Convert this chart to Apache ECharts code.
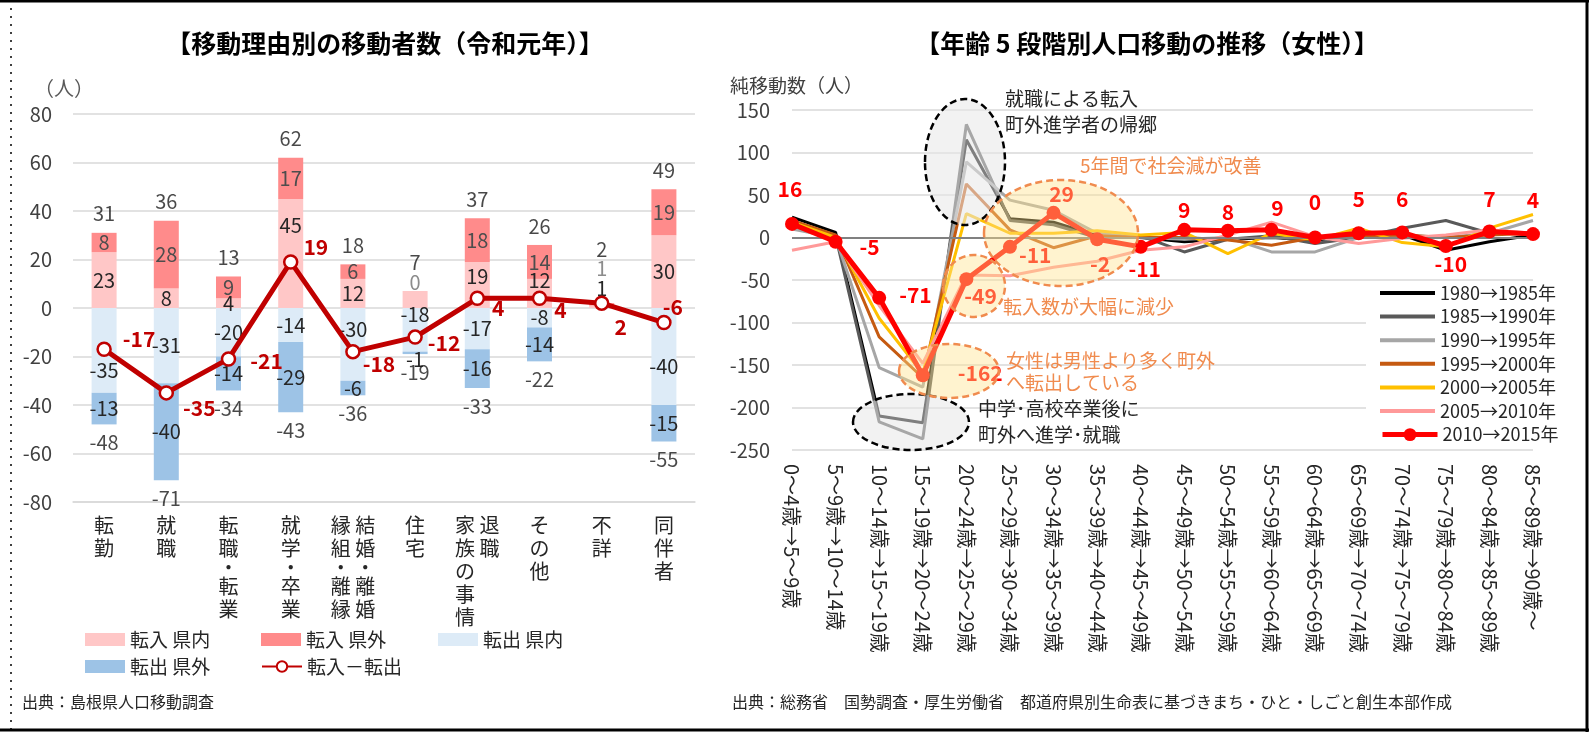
<!DOCTYPE html>
<html>
<head>
<meta charset="utf-8">
<script src="https://cdn.jsdelivr.net/npm/echarts@6/dist/echarts.min.js"></script>
<style>
html, body { margin: 0; padding: 0; background: #fff; }
#main { width: 1589px; height: 732px; }
</style>
</head>
<body>
<div id="main"></div>
<script>
// 左：移動理由別の移動者数（令和元年）
var reasons = ['転勤', '就職', '転職・転業', '就学・卒業', '結婚・離婚・縁組・離縁', '住宅', '退職・家族の事情', 'その他', '不詳', '同伴者'];
// 縦書きの列（右の列から）
var reasonColumns = [['転勤'], ['就職'], ['転職・転業'], ['就学・卒業'], ['結婚・離婚', '縁組・離縁'], ['住宅'], ['退職', '家族の事情'], ['その他'], ['不詳'], ['同伴者']];
var inPref = [23, 8, 4, 45, 12, 7, 19, 12, 1, 30];
var inOther = [8, 28, 9, 17, 6, 0, 18, 14, 1, 19];
var outPref = [-35, -31, -20, -14, -30, -18, -17, -8, 0, -40];
var outOther = [-13, -40, -14, -29, -6, -1, -16, -14, 0, -15];
var netMove = [-17, -35, -21, 19, -18, -12, 4, 4, 2, -6];
var leftMin = -80, leftMax = 80, leftStep = 20;

// 右：年齢5段階別人口移動の推移（女性）
var ageGroups = ['0～4歳→5～9歳', '5～9歳→10～14歳', '10～14歳→15～19歳', '15～19歳→20～24歳', '20～24歳→25～29歳',
  '25～29歳→30～34歳', '30～34歳→35～39歳', '35～39歳→40～44歳', '40～44歳→45～49歳', '45～49歳→50～54歳',
  '50～54歳→55～59歳', '55～59歳→60～64歳', '60～64歳→65～69歳', '65～69歳→70～74歳', '70～74歳→75～79歳',
  '75～79歳→80～84歳', '80～84歳→85～89歳', '85～89歳→90歳～'];
var periods = ['1980→1985年', '1985→1990年', '1990→1995年', '1995→2000年', '2000→2005年', '2005→2010年', '2010→2015年'];
var p1980 = [24, 6, -210, -218, 115, 22, 18, 2, 0, -5, -2, 0, -3, 2, 3, -15, -5, 3];
var p1985 = [16, 2, -217, -237, 133, 20, 15, 0, 2, -17, -2, 2, -7, 0, 11, 20, 5, 5];
var p1990 = [10, 0, -153, -176, 89, 44, 32, 5, 0, -2, 0, -17, -17, 0, 3, 0, 5, 20];
var p1995 = [20, 3, -117, -165, 63, 9, -12, 2, 0, 0, -3, -9, 0, 2, 3, 0, 3, 5];
var p2000 = [18, 0, -95, -160, 28, 5, 5, 8, 3, 6, -19, 5, -3, 11, -6, -11, 11, 27];
var p2005 = [-15, -5, -80, -148, -44, -45, -35, -28, -15, -11, 3, 18, 1, -7, -1, 3, 9, 5];
var p2010 = [16, -5, -71, -162, -49, -11, 29, -2, -11, 9, 8, 9, 0, 5, 6, -10, 7, 4];
var rightMin = -250, rightMax = 150, rightStep = 50;

var FONT = '"Noto Sans CJK JP", "Noto Sans", sans-serif';
var myChart = echarts.init(document.getElementById('main'));

// ラベル位置の個別調整
function items(values, tweaks, base) {
  return values.map(function (v, i) {
    var lab = Object.assign({ show: v !== 0 }, base || {}, tweaks[i] || {});
    return { value: v, label: lab };
  });
}

// 縦書き（中黒の行は詰める）
function verticalText(value, idx) {
  var cols = reasonColumns[idx];
  var n = 0;
  cols.forEach(function (c) { n = Math.max(n, c.length); });
  var rows = [];
  for (var r = 0; r < n; r++) {
    var row = [];
    for (var c = cols.length - 1; c >= 0; c--) {
      row.push(cols[c].charAt(r) || '\u3000');
    }
    var txt = row.join(' ');
    rows.push(txt.indexOf('・') >= 0 ? '{d|' + txt + '}' : '{c|' + txt + '}');
  }
  return rows.join('\n');
}

var inTotal = inPref.map(function (v, i) { return v + inOther[i]; });
var outTotal = outPref.map(function (v, i) { return v + outOther[i]; });

var totalTop = inTotal.map(function (v, i) {
  var it = { value: [i, v] };
  if (i === 5) it.label = { offset: [0, -10] };
  if (i === 8) it.label = { offset: [0, -35] };
  return it;
});
var totalBottom = [];
outTotal.forEach(function (v, i) { if (v !== 0) totalBottom.push([i, v]); });

var netTweaks = {
  0: { offset: [6, -10] }, 1: { offset: [4, 15] }, 2: { offset: [9, 2] }, 3: { offset: [0, -15] },
  4: { offset: [-3, 12] }, 5: { offset: [0, 6] }, 6: { offset: [2, 10] }, 7: { offset: [2, 12] },
  8: { offset: [0, 24] }, 9: { offset: [-14, -16] }
};
var redTweaks = {
  0: { offset: [-2, -12] }, 1: { position: 'right', offset: [12, 5] }, 2: { position: 'right', offset: [8, -3] },
  3: { position: 'right', offset: [23, -2] }, 4: { position: 'right', offset: [-14, 17] },
  5: { position: 'right', offset: [-3, 8] }, 6: { offset: [8, 4] }, 7: { position: 'bottom', offset: [3, 2] },
  8: { position: 'bottom', offset: [4, 0] }, 9: { offset: [0, 3] }, 10: { offset: [0, 4] }, 11: { offset: [6, 1] },
  12: { offset: [0, -13] }, 13: { offset: [0, -12] }, 14: { offset: [0, -11] },
  15: { position: 'bottom', offset: [5, -4] }, 16: { offset: [0, -10] }, 17: { offset: [0, -12] }
};

var periodColors = ['#000000', '#595959', '#A6A6A6', '#C55A11', '#FFC000', '#FF9999'];
var periodData = [p1980, p1985, p1990, p1995, p2000, p2005];

function barSeries(name, data, color, labelColor) {
  return {
    name: name, type: 'bar', stack: 'reason', xAxisIndex: 0, yAxisIndex: 0,
    barWidth: 25, itemStyle: { color: color },
    label: { position: 'inside', fontSize: 20, color: labelColor, fontFamily: FONT },
    data: data
  };
}

var series = [
  barSeries('転入 県内', items(inPref, { 3: { offset: [0, -28] }, 5: { show: false }, 6: { offset: [0, -9] }, 7: { offset: [0, -13] }, 8: { offset: [0, -18] } }), '#FFC7C7', '#262626'),
  barSeries('転入 県外', items(inOther, { 5: { show: true, offset: [0, -9], color: '#8C8C8C' }, 8: { offset: [0, -36], color: '#8C8C8C' } }), '#FF8B8B', '#4D4D4D'),
  barSeries('転出 県内', items(outPref, { 0: { offset: [0, 20] }, 4: { offset: [0, -15] }, 5: { offset: [0, -15] }, 9: { offset: [0, 10] } }), '#DDEBF7', '#262626'),
  barSeries('転出 県外', items(outOther, { 5: { offset: [0, 7] } }), '#9DC3E6', '#262626'),
  {
    name: 'totalTop', type: 'scatter', xAxisIndex: 0, yAxisIndex: 0, symbolSize: 0, silent: true,
    label: { show: true, position: 'top', distance: 9, fontSize: 20, color: '#1A1A1A', fontFamily: FONT,
      formatter: function (p) { return p.value[1]; } },
    data: totalTop
  },
  {
    name: 'totalBottom', type: 'scatter', xAxisIndex: 0, yAxisIndex: 0, symbolSize: 0, silent: true,
    label: { show: true, position: 'bottom', distance: 8, fontSize: 20, color: '#1A1A1A', fontFamily: FONT,
      formatter: function (p) { return p.value[1]; } },
    data: totalBottom
  },
  {
    name: '転入－転出', type: 'line', xAxisIndex: 0, yAxisIndex: 0, z: 5,
    symbol: 'circle', symbolSize: 13,
    lineStyle: { color: '#C00000', width: 5 },
    itemStyle: { color: '#fff', borderColor: '#C00000', borderWidth: 2.5 },
    label: { show: true, position: 'right', fontSize: 21, fontWeight: 'bold', color: '#C00000', fontFamily: FONT },
    data: netMove.map(function (v, i) { return { value: v, label: netTweaks[i] || {} }; })
  }
];

periodData.forEach(function (d, k) {
  var s = {
    name: periods[k], type: 'line', xAxisIndex: 1, yAxisIndex: 1,
    symbol: 'none', lineStyle: { color: periodColors[k], width: 3 }, itemStyle: { color: periodColors[k] },
    data: d
  };
  if (k === 0) {
    s.markLine = { silent: true, symbol: 'none', label: { show: false },
      lineStyle: { color: '#808080', width: 2, type: 'solid' }, data: [{ yAxis: 0 }] };
  }
  series.push(s);
});
series.push({
  name: periods[6], type: 'line', xAxisIndex: 1, yAxisIndex: 1, z: 5,
  symbol: 'circle', symbolSize: 14,
  lineStyle: { color: '#FF0000', width: 5 }, itemStyle: { color: '#FF0000' },
  label: { show: true, position: 'top', fontSize: 21, fontWeight: 'bold', color: '#FF0000', fontFamily: FONT },
  data: p2010.map(function (v, i) { return { value: v, label: redTweaks[i] || {} }; })
});

function legendAt(name, x, y) {
  return {
    data: [name], left: x, top: y, itemWidth: 40, itemHeight: 13, padding: 0, icon: name === '転入－転出' ? undefined : 'rect',
    textStyle: { fontSize: 19, color: '#262626', fontFamily: FONT }
  };
}

function ellipse(cx, cy, rx, ry, fill, stroke) {
  return {
    type: 'ellipse', z: 20, silent: true,
    shape: { cx: cx, cy: cy, rx: rx, ry: ry },
    style: { fill: fill, stroke: stroke, lineWidth: 2.5, lineDash: [7, 4] }
  };
}
function label(text, x, y, size, color, weight, align) {
  return {
    type: 'text', z: 21, silent: true, x: x, y: y,
    style: { text: text, fill: color, font: (weight || '') + ' ' + size + 'px ' + FONT,
      textAlign: align || 'left', textVerticalAlign: 'middle' }
  };
}

var GRAYFILL = 'rgba(232,232,232,0.55)';
var ORANGEFILL = 'rgba(255,226,140,0.42)';
var ORANGE = '#F08B4E';

option = {
  backgroundColor: '#fff',
  animation: false,
  textStyle: { fontFamily: FONT },
  grid: [
    { left: 73, top: 114, width: 622, height: 388 },
    { left: 792, top: 110, width: 741, height: 340 }
  ],
  xAxis: [
    {
      type: 'category', gridIndex: 0, data: reasons,
      axisLine: { onZero: false, lineStyle: { color: '#D9D9D9', width: 1.5 } },
      axisTick: { show: false },
      axisLabel: { interval: 0, fontSize: 20, lineHeight: 22, color: '#262626', margin: 12, verticalAlign: 'top',
        formatter: verticalText,
        rich: {
          c: { fontSize: 20, lineHeight: 23, color: '#262626', fontFamily: FONT },
          d: { fontSize: 20, lineHeight: 15, color: '#262626', fontFamily: FONT }
        } }
    },
    {
      type: 'category', gridIndex: 1, data: ageGroups, boundaryGap: false,
      axisLine: { show: false }, axisTick: { show: false },
      axisLabel: { interval: 0, rotate: -90, fontSize: 20, color: '#262626', margin: 14 }
    }
  ],
  yAxis: [
    {
      type: 'value', gridIndex: 0, min: leftMin, max: leftMax, interval: leftStep,
      axisLine: { show: false }, axisTick: { show: false },
      axisLabel: { fontSize: 20, color: '#404040', margin: 21 },
      splitLine: { lineStyle: { color: '#D9D9D9', width: 1.5 } }
    },
    {
      type: 'value', gridIndex: 1, min: rightMin, max: rightMax, interval: rightStep,
      axisLine: { show: false }, axisTick: { show: false },
      axisLabel: { fontSize: 20, color: '#404040', margin: 22 },
      splitLine: { lineStyle: { color: '#D9D9D9', width: 1.5 } }
    }
  ],
  legend: [
    legendAt('転入 県内', 85, 630),
    legendAt('転入 県外', 261, 630),
    legendAt('転出 県内', 438, 630),
    legendAt('転出 県外', 85, 657),
    legendAt('転入－転出', 261, 657),
    {
      // 線だけの凡例（白い背景で目盛線を隠す）
      data: periods.slice(0, 6), orient: 'vertical', left: 1366, top: 282, itemWidth: 55, itemHeight: 4, itemGap: 5.6,
      icon: 'rect', padding: [2, 4, 28, 14], backgroundColor: '#fff',
      textStyle: { fontSize: 18, lineHeight: 18, color: '#262626', fontFamily: FONT }
    },
    {
      data: [periods[6]], left: 1380, top: 425.6, itemWidth: 55, itemHeight: 16, padding: 0, z: 6,
      lineStyle: { width: 5, color: '#FF0000' }, itemStyle: { color: '#FF0000' },
      textStyle: { fontSize: 18, lineHeight: 18, color: '#262626', fontFamily: FONT }
    }
  ],
  series: series,
  graphic: [
    // 枠線
    { type: 'line', z: 30, silent: true, shape: { x1: 0, y1: 1, x2: 1589, y2: 1 }, style: { stroke: '#000', lineWidth: 3 } },
    { type: 'line', z: 30, silent: true, shape: { x1: 1587, y1: 0, x2: 1587, y2: 732 }, style: { stroke: '#000', lineWidth: 3 } },
    { type: 'line', z: 30, silent: true, shape: { x1: 0, y1: 730, x2: 1589, y2: 730 }, style: { stroke: '#000', lineWidth: 3 } },
    { type: 'line', z: 30, silent: true, shape: { x1: 11, y1: 0, x2: 11, y2: 732 }, style: { stroke: '#000', lineWidth: 1.5, lineDash: [2, 6] } },
    // タイトル
    label('【移動理由別の移動者数（令和元年）】', 385, 43, 25, '#000', 'bold', 'center'),
    label('【年齢 5 段階別人口移動の推移（女性）】', 1147, 43, 25, '#000', 'bold', 'center'),
    label('（人）', 34, 88, 20, '#595959'),
    label('純移動数（人）', 730, 86, 19, '#404040'),
    // 注記
    ellipse(965, 162, 40, 63, GRAYFILL, '#000'),
    ellipse(911, 422, 58, 28, GRAYFILL, '#000'),
    ellipse(1061, 233, 77, 53, ORANGEFILL, ORANGE),
    ellipse(974, 286, 31, 31, ORANGEFILL, ORANGE),
    ellipse(949, 371, 50, 27, ORANGEFILL, ORANGE),
    label('就職による転入', 1005, 99, 19, '#262626'),
    label('町外進学者の帰郷', 1005, 125, 19, '#262626'),
    label('5年間で社会減が改善', 1080, 166, 19, ORANGE),
    label('転入数が大幅に減少', 1003, 307, 19, ORANGE),
    label('女性は男性より多く町外', 1006, 361, 19, ORANGE),
    label('へ転出している', 1006, 383, 19, ORANGE),
    label('中学･高校卒業後に', 978, 409, 19, '#262626'),
    label('町外へ進学･就職', 978, 435, 19, '#262626'),
    // 出典
    label('出典：島根県人口移動調査', 22, 702, 16, '#262626'),
    label('出典：総務省　国勢調査・厚生労働省　都道府県別生命表に基づきまち・ひと・しごと創生本部作成', 732, 702, 16, '#262626')
  ]
};

myChart.setOption(option);
</script>
</body>
</html>
